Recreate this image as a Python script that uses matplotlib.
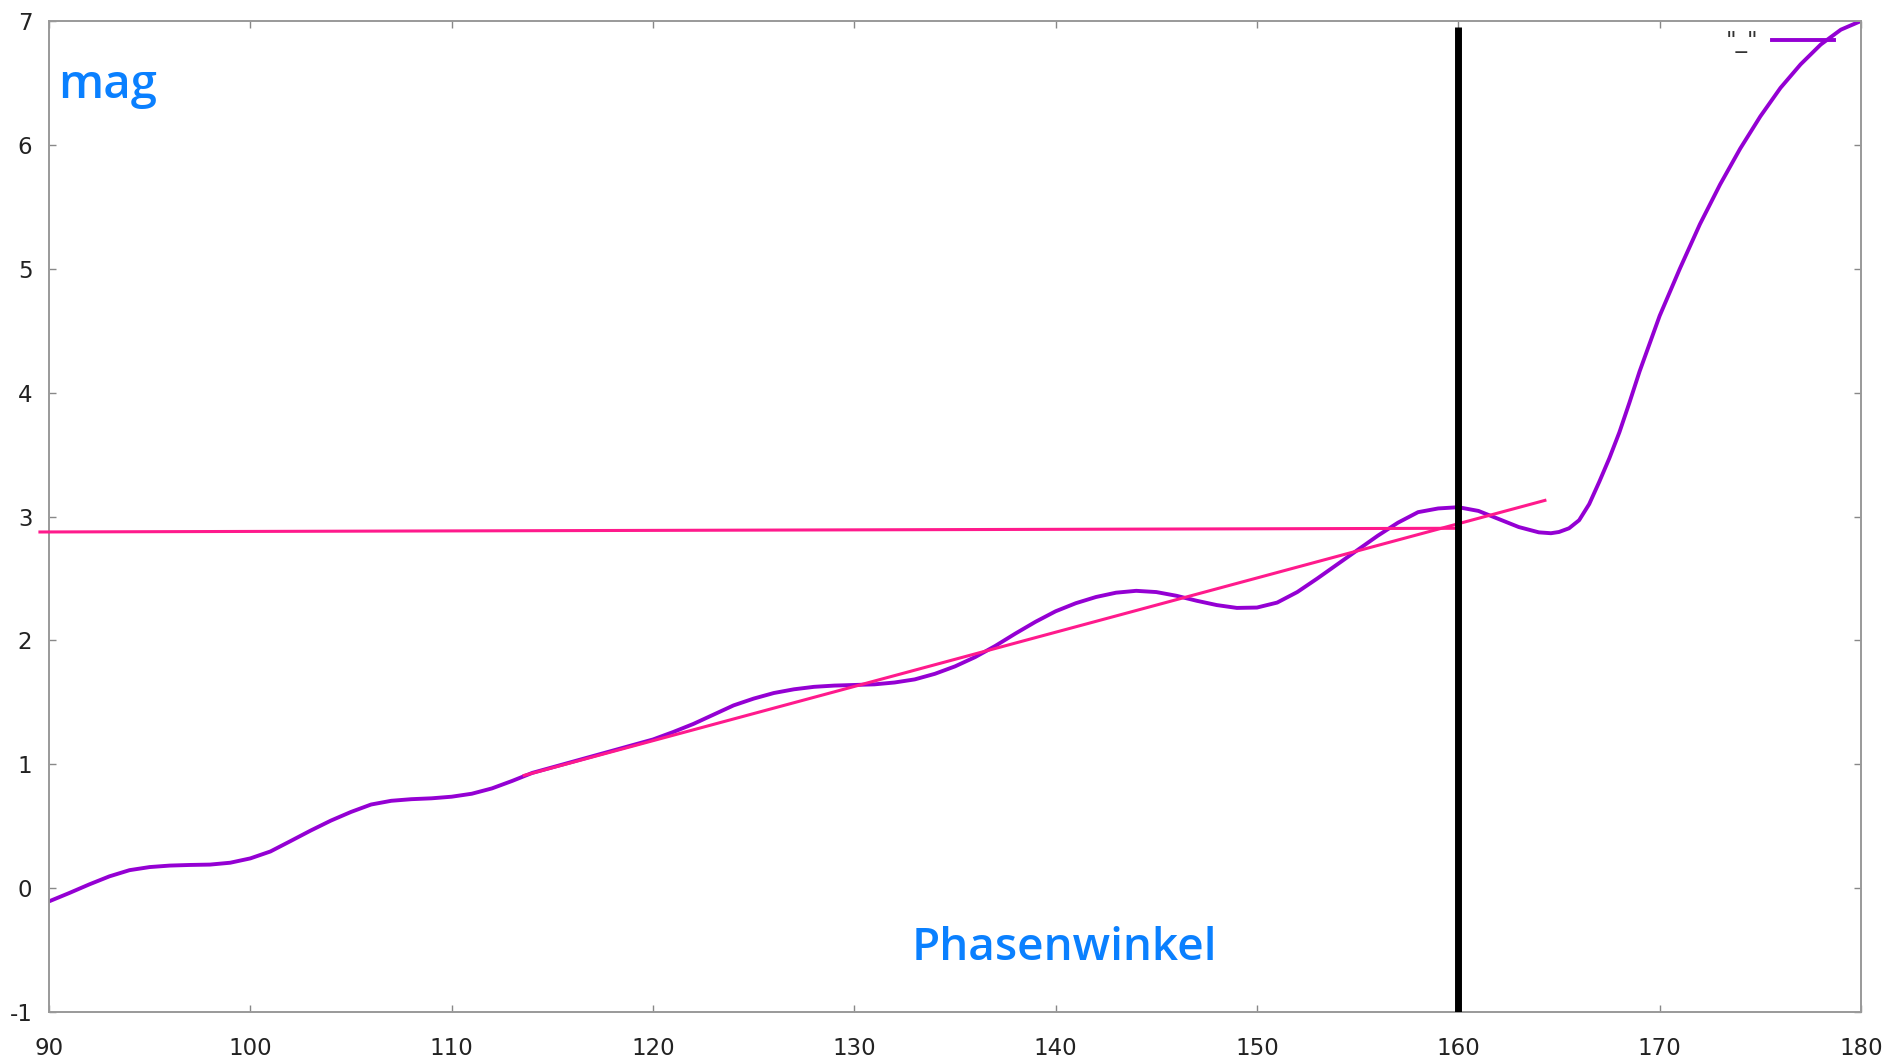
import numpy as np
import matplotlib.pyplot as plt

plt.rcParams['axes.unicode_minus'] = False

# Messkurve: Betrag über Phasenwinkel
phase = [90, 91, 92, 93, 94, 95, 96, 97, 98, 99,
         100, 101, 102, 103, 104, 105, 106, 107, 108, 109,
         110, 111, 112, 113, 114, 115, 116, 117, 118, 119,
         120, 121, 122, 123, 124, 125, 126, 127, 128, 129,
         130, 131, 132, 133, 134, 135, 136, 137, 138, 139,
         140, 141, 142, 143, 144, 145, 146, 147, 148, 149,
         150, 151, 152, 153, 154, 155, 156, 157, 158, 159,
         160, 161, 162, 163, 164, 164.6, 165, 165.5, 166, 166.5,
         167, 167.5, 168, 168.5, 169, 170, 171, 172, 173, 174,
         175, 176, 177, 178, 179, 180]
mag = [-0.107, -0.04, 0.03, 0.095, 0.145, 0.17, 0.182, 0.187, 0.19, 0.205,
       0.24, 0.296, 0.38, 0.465, 0.545, 0.615, 0.675, 0.705, 0.718, 0.725,
       0.738, 0.762, 0.805, 0.865, 0.93, 0.975, 1.02, 1.065, 1.11, 1.155,
       1.2, 1.26, 1.325, 1.4, 1.475, 1.53, 1.575, 1.605, 1.625, 1.635,
       1.64, 1.645, 1.66, 1.685, 1.73, 1.79, 1.865, 1.955, 2.055, 2.15,
       2.235, 2.3, 2.35, 2.385, 2.4, 2.39, 2.36, 2.32, 2.285, 2.262,
       2.265, 2.305, 2.39, 2.5, 2.615, 2.73, 2.845, 2.95, 3.035, 3.065,
       3.075, 3.045, 2.98, 2.915, 2.872, 2.865, 2.875, 2.905, 2.97, 3.1,
       3.28, 3.47, 3.68, 3.92, 4.17, 4.62, 5.0, 5.36, 5.68, 5.97,
       6.23, 6.46, 6.65, 6.81, 6.93, 7.0]

# Hilfslinien
horiz_x = [89.55, 160.0]
horiz_y = [2.875, 2.905]
fit_x = [113.6, 164.3]
fit_y = [0.91, 3.13]
marker_x = 160
marker_y = [-1, 6.95]

xticks = [90, 100, 110, 120, 130, 140, 150, 160, 170, 180]
yticks = [-1, 0, 1, 2, 3, 4, 5, 6, 7]

W, H = 1890, 1061
fig = plt.figure(figsize=(W / 100, H / 100), dpi=100)
ax = fig.add_axes([49 / W, 1 - 1012 / H, (1861 - 49) / W, (1012 - 21) / H])

purple = '#9400d3'
pink = '#ff1a8c'
blue = '#0a80ff'

ax.plot(phase, mag, color=purple, lw=2.8, zorder=2, label='"_"',
        solid_joinstyle='round')
ax.plot(horiz_x, horiz_y, color=pink, lw=2.2, zorder=3, clip_on=False)
ax.plot(fit_x, fit_y, color=pink, lw=2.2, zorder=3)
ax.plot([marker_x, marker_x], marker_y, color='black', lw=5, zorder=4,
        solid_capstyle='butt')

ax.set_xlim(90, 180)
ax.set_ylim(-1, 7)
ax.set_xticks(xticks)
ax.set_yticks(yticks)
ax.tick_params(direction='in', length=5, width=1, color='#888888',
               top=True, right=True, labelsize=16.5, labelcolor='#222222')
ax.tick_params(axis='x', pad=18)
ax.tick_params(axis='y', pad=12)
for sp in ax.spines.values():
    sp.set_color('#999999')
    sp.set_linewidth(1.4)

ax.text(58 / W, 1 - 98 / H, 'mag', transform=fig.transFigure, color=blue,
        fontsize=34, fontweight='semibold', family='Open Sans')
ax.text(912 / W, 1 - 960 / H, 'Phasenwinkel', transform=fig.transFigure,
        color=blue, fontsize=33, fontweight='semibold', family='Open Sans')

leg = ax.legend(loc='center right', bbox_to_anchor=(1834 / W, 1 - 41.7 / H),
                bbox_transform=fig.transFigure, frameon=False, fontsize=16.5,
                markerfirst=False, handlelength=2.7, handletextpad=0.6,
                borderpad=0, borderaxespad=0)
for t in leg.get_texts():
    t.set_color('#333333')

fig.savefig('out.png', dpi=100)
